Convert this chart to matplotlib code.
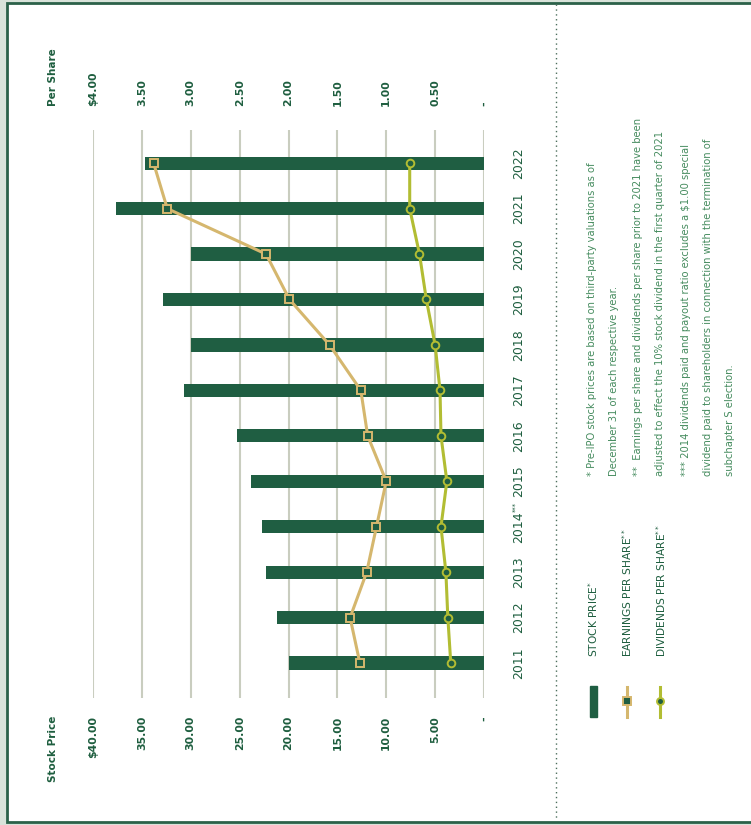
import numpy as np
import matplotlib.pyplot as plt
from matplotlib.lines import Line2D
from matplotlib.patches import Rectangle

# data
years = ['2011', '2012', '2013', '2014', '2015', '2016',
         '2017', '2018', '2019', '2020', '2021', '2022']
stock_price = [20.0, 21.2, 22.3, 22.7, 23.8, 25.3, 30.7, 30.0, 32.8, 30.0, 37.6, 34.7]
eps = [1.27, 1.37, 1.20, 1.10, 1.00, 1.19, 1.26, 1.58, 1.99, 2.23, 3.24, 3.38]
dps = [0.34, 0.37, 0.39, 0.44, 0.38, 0.44, 0.45, 0.50, 0.59, 0.66, 0.76, 0.76]

price_ticks = [0, 5, 10, 15, 20, 25, 30, 35, 40]
price_labels = ['-', '5.00', '10.00', '15.00', '20.00', '25.00', '30.00', '35.00', '$40.00']
share_ticks = [0, 0.5, 1, 1.5, 2, 2.5, 3, 3.5, 4]
share_labels = ['-', '0.50', '1.00', '1.50', '2.00', '2.50', '3.00', '3.50', '$4.00']

legend_labels = ['STOCK PRICE$^{*}$', 'EARNINGS PER SHARE$^{**}$', 'DIVIDENDS PER SHARE$^{**}$']
notes = [
    '* Pre-IPO stock prices are based on third-party valuations as of',
    'December 31 of each respective year.',
    '**  Earnings per share and dividends per share prior to 2021 have been',
    'adjusted to effect the 10% stock dividend in the first quarter of 2021',
    '*** 2014 dividends paid and payout ratio excludes a \\$1.00 special',
    'dividend paid to shareholders in connection with the termination of',
    'subchapter S election.',
]

GREEN = '#1f5e42'
TEXT = '#1e5e3f'
NOTE = '#468c5f'
TAN = '#d5b76e'
LIME = '#b2bd33'
GRID = '#c9cdbf'

W, H = 751, 825
def px(x):
    return x / W
def py(y):
    return 1 - y / H

plt.rcParams['font.family'] = ['DejaVu Sans']
plt.rcParams['mathtext.fontset'] = 'dejavusans'

fig = plt.figure(figsize=(W / 100, H / 100), dpi=100, facecolor='#d9e3da')

# white card with dark green frame
fig.add_artist(Rectangle((px(7), py(822)), px(760) - px(7), py(3) - py(822),
                         transform=fig.transFigure, facecolor='white',
                         edgecolor='#2b6149', lw=2, zorder=0))
# dotted divider
fig.add_artist(Line2D([px(556), px(556)], [py(4), py(821)], transform=fig.transFigure,
                      color='#4c6e5c', lw=1, ls=(0, (1, 2.5))))

pos = np.arange(len(years))
ax = fig.add_axes([px(93), py(698), px(484) - px(93), py(130) - py(698)])
ax.set_facecolor('none')
ax.barh(pos, stock_price, height=0.29, color=GREEN, zorder=2)
ax.set_xlim(40, 0)
ax.set_ylim(-0.77, 11.73)
ax.set_xticks(price_ticks)
ax.set_xticklabels(price_labels, rotation=90, color=TEXT, fontsize=7.8, fontweight='bold')
ax.tick_params(axis='x', length=0, pad=13)
ax.grid(axis='x', color=GRID, lw=1.5, zorder=0)
ax.yaxis.tick_right()
ax.set_yticks(pos)
ax.set_yticklabels(years, rotation=90, va='center', color=TEXT, fontsize=9)
ax.tick_params(axis='y', length=0, pad=20)
for s in ax.spines.values():
    s.set_visible(False)
# superscript mark on 2014
ax.annotate('***', xy=(1, years.index('2014')), xycoords=('axes fraction', 'data'),
            xytext=(20.3, 10.6), textcoords='offset points', rotation=90,
            ha='left', va='bottom', color=TEXT, fontsize=4.8)

ax2 = ax.twiny()
ax2.set_xlim(4, 0)
ax2.set_xticks(share_ticks)
ax2.set_xticklabels(share_labels, rotation=90, color=TEXT, fontsize=7.8, fontweight='bold')
ax2.tick_params(axis='x', length=0, pad=17)
for s in ax2.spines.values():
    s.set_visible(False)
ax2.plot(eps, pos, color=TAN, lw=2.2, marker='s', ms=6, mfc=GREEN, mec=TAN, mew=1.4, zorder=3)
ax2.plot(dps, pos, color=LIME, lw=2.2, marker='o', ms=5.5, mfc=GREEN, mec=LIME, mew=1.4, zorder=3)

# axis titles
fig.text(px(53), py(106), 'Per Share', rotation=90, ha='center', va='bottom',
         color=TEXT, fontsize=7.5, fontweight='bold')
fig.text(px(53), py(716), 'Stock Price', rotation=90, ha='center', va='top',
         color=TEXT, fontsize=7.5, fontweight='bold')

# legend
fig.add_artist(Rectangle((px(590), py(717)), px(597) - px(590), py(686) - py(717),
                         transform=fig.transFigure, color=GREEN))
fig.add_artist(Line2D([px(627), px(627)], [py(687), py(717)], transform=fig.transFigure,
                      color=TAN, lw=2.2))
fig.add_artist(Line2D([px(627)], [py(701)], transform=fig.transFigure, marker='s', ms=6,
                      mfc=GREEN, mec=TAN, mew=1.4))
fig.add_artist(Line2D([px(660), px(660)], [py(687), py(717)], transform=fig.transFigure,
                      color=LIME, lw=2.2))
fig.add_artist(Line2D([px(660)], [py(701)], transform=fig.transFigure, marker='o', ms=5,
                      mfc=GREEN, mec=LIME, mew=1.4))
for x, lab in zip([593, 627, 661], legend_labels):
    fig.text(px(x), py(657), lab, rotation=90, ha='center', va='bottom',
             color=TEXT, fontsize=7.7)

# footnotes
for x, line in zip([592, 614, 638, 660, 686, 708, 730], notes):
    fig.text(px(x), py(476), line, rotation=90, ha='center', va='bottom',
             color=NOTE, fontsize=7.2)

fig.savefig('out.png', dpi=100, facecolor=fig.get_facecolor())
